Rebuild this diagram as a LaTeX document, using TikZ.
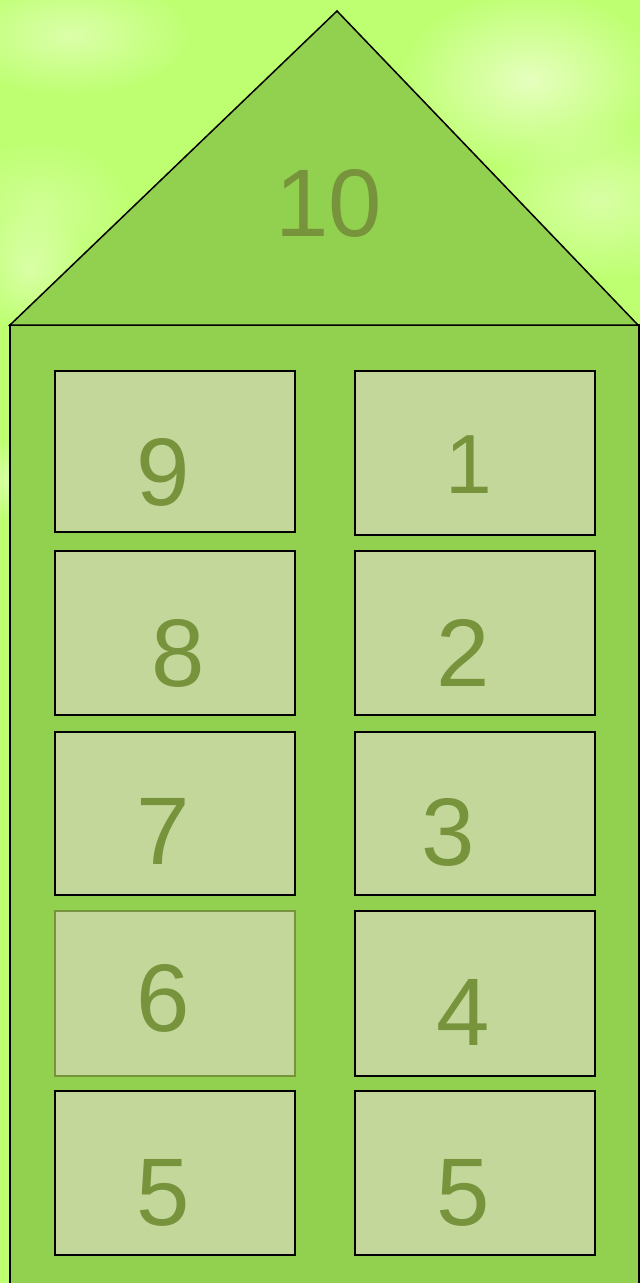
\documentclass[tikz,border=0pt]{standalone}
\usepackage{fontspec}
\setmainfont{Liberation Sans}
\usetikzlibrary{fadings}
\tikzfading[name=softblob, inner color=transparent!0, outer color=transparent!100]
\definecolor{bgc}{HTML}{BEFF72}
\definecolor{house}{HTML}{92D050}
\definecolor{win}{HTML}{C4D79B}
\definecolor{num}{HTML}{77933C}
\definecolor{pale}{HTML}{F4FFD8}
\tikzset{
  x=1pt, y=-1pt,
  winbox/.style={draw=black, line width=1.5pt, fill=win},
  digit/.style={text=num, anchor=base, inner sep=0pt, font=\fontsize{96}{96}\selectfont},
  blob/.style={fill=#1, path fading=softblob},
}
\begin{document}
\begin{tikzpicture}
\useasboundingbox (0,0) rectangle (640,1283);
% background
\fill[bgc] (0,0) rectangle (640,1283);
\fill[blob=pale, opacity=0.55] (70,35) ellipse (120 and 60);
\fill[blob=pale, opacity=0.35] (40,210) ellipse (90 and 70);
\fill[blob=pale, opacity=0.75] (530,80) ellipse (130 and 90);
\fill[blob=pale, opacity=0.5] (600,200) ellipse (110 and 80);
\fill[blob=pale, opacity=0.5] (30,270) ellipse (60 and 60);
\fill[blob=pale, opacity=0.5] (5,480) ellipse (20 and 40);
% house
\draw[fill=house, line width=1.5pt, line join=miter] (10,325) rectangle (639,1290);
\draw[fill=house, line width=1.5pt, line join=miter] (337,11) -- (638,325) -- (10,325) -- cycle;
% windows
\draw[winbox] (55,371) rectangle (295,532);
\draw[winbox] (355,371) rectangle (595,535);
\draw[winbox] (55,551) rectangle (295,715);
\draw[winbox] (355,551) rectangle (595,715);
\draw[winbox] (55,732) rectangle (295,895);
\draw[winbox] (355,732) rectangle (595,895);
\draw[winbox, draw=num] (55,911) rectangle (295,1076);
\draw[winbox] (355,911) rectangle (595,1076);
\draw[winbox] (55,1091) rectangle (295,1255);
\draw[winbox] (355,1091) rectangle (595,1255);
% numbers
\node[digit] (n10) at (329,236) {10};
\node[digit] (n9) at (163,505) {9};
\node[digit, font=\fontsize{84}{84}\selectfont] (n1) at (469,493) {1};
\node[digit] (n8) at (178,686) {8};
\node[digit] (n2) at (463,686) {2};
\node[digit] (n7) at (163,864) {7};
\node[digit] (n3) at (448,865) {3};
\node[digit] (n6) at (163,1031) {6};
\node[digit] (n4) at (463,1045) {4};
\node[digit] (n5a) at (163,1225) {5};
\node[digit] (n5b) at (463,1225) {5};
\end{tikzpicture}
\end{document}
